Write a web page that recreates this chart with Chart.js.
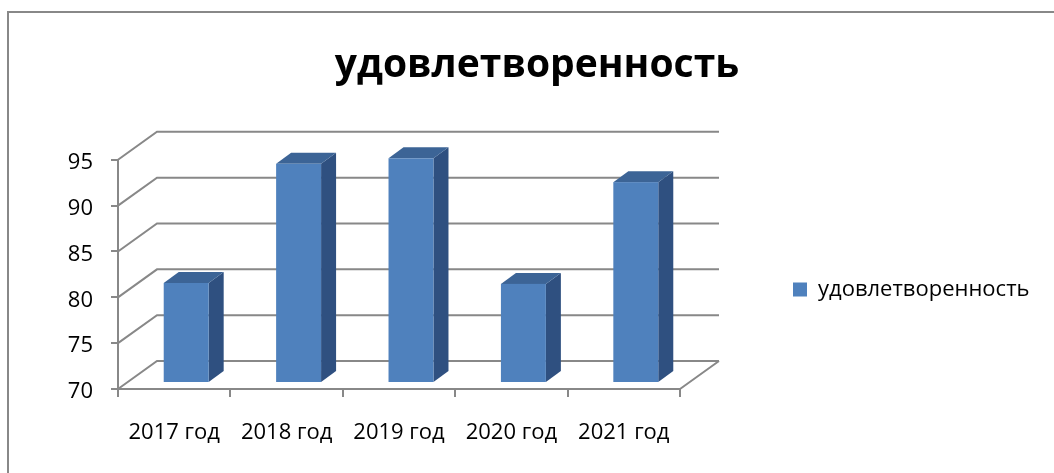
<!DOCTYPE html>
<html>
<head>
<meta charset="utf-8">
<script src="https://cdn.jsdelivr.net/npm/chart.js@4.4.1/dist/chart.umd.min.js"></script>
<style>
  html, body { margin: 0; padding: 0; background: #fff; }
  canvas { display: block; }
</style>
</head>
<body>
<canvas id="chart" width="1054" height="473"></canvas>
<script>
const categories = ["2017 год", "2018 год", "2019 год", "2020 год", "2021 год"];
const seriesName = "удовлетворенность";
const satisfaction = [80.8, 93.8, 94.4, 80.7, 91.8];
const yTicks = [70, 75, 80, 85, 90, 95];

const FONT = "'Open Sans', 'DejaVu Sans', sans-serif";
const gridColor = "#888888";
const barFront = "#4F81BD";
const barTop = "#3C6496";
const barSide = "#2F5080";
// 3d look: back wall offset, bar offset inside the box, bar depth (px)
const WALL = { dx: 39, dy: -28 };
const BAR_POS = { dx: 12, dy: -7 };
const BAR_DEPTH = { dx: 15, dy: -11 };

const frame = {
  id: "frame",
  beforeDraw(chart) {
    const ctx = chart.ctx;
    ctx.save();
    ctx.strokeStyle = gridColor;
    ctx.lineWidth = 2;
    ctx.strokeRect(8, 12, 1200, 600);
    ctx.restore();
  }
};

const box3d = {
  id: "box3d",
  beforeDatasetsDraw(chart) {
    const { ctx, chartArea, scales } = chart;
    const y = scales.y;
    const left = chartArea.left, right = chartArea.right;
    const floor = y.getPixelForValue(y.min);
    ctx.save();
    ctx.strokeStyle = gridColor;
    ctx.lineWidth = 2;
    ctx.beginPath();
    y.ticks.forEach(t => {
      const py = y.getPixelForValue(t.value);
      ctx.moveTo(left, py);
      ctx.lineTo(left + WALL.dx, py + WALL.dy);
      ctx.lineTo(right + WALL.dx, py + WALL.dy);
    });
    ctx.moveTo(right, floor);
    ctx.lineTo(right + WALL.dx, floor + WALL.dy);
    ctx.stroke();

    chart.getDatasetMeta(0).data.forEach(bar => {
      const p = bar.getProps(["x", "y", "width"], true);
      const x0 = p.x - p.width / 2 + BAR_POS.dx;
      const x1 = x0 + p.width;
      const top = p.y + BAR_POS.dy;
      const bottom = floor + BAR_POS.dy;

      ctx.fillStyle = barSide;
      ctx.beginPath();
      ctx.moveTo(x1, top);
      ctx.lineTo(x1 + BAR_DEPTH.dx, top + BAR_DEPTH.dy);
      ctx.lineTo(x1 + BAR_DEPTH.dx, bottom + BAR_DEPTH.dy);
      ctx.lineTo(x1, bottom);
      ctx.closePath();
      ctx.fill();

      ctx.fillStyle = barTop;
      ctx.beginPath();
      ctx.moveTo(x0, top);
      ctx.lineTo(x0 + BAR_DEPTH.dx, top + BAR_DEPTH.dy);
      ctx.lineTo(x1 + BAR_DEPTH.dx, top + BAR_DEPTH.dy);
      ctx.lineTo(x1, top);
      ctx.closePath();
      ctx.fill();

      ctx.fillStyle = barFront;
      ctx.fillRect(x0, top, p.width, bottom - top);
    });
    ctx.restore();
    return false;
  }
};

new Chart(document.getElementById("chart"), {
  type: "bar",
  data: {
    labels: categories,
    datasets: [{
      label: seriesName,
      data: satisfaction,
      backgroundColor: barFront,
      barPercentage: 0.4,
      categoryPercentage: 1
    }]
  },
  options: {
    responsive: false,
    animation: false,
    devicePixelRatio: 1,
    layout: { padding: { top: 0, left: 45, right: 25, bottom: 0 } },
    plugins: {
      title: {
        display: true,
        text: seriesName,
        color: "#000",
        font: { family: FONT, size: 39, weight: "bold" },
        padding: { top: 42, bottom: 71 }
      },
      legend: {
        position: "right",
        fullSize: false,
        title: { display: true, text: " ", font: { size: 10 }, padding: { top: 9, bottom: 9 } },
        labels: {
          boxWidth: 14,
          boxHeight: 14,
          padding: 10,
          color: "#000",
          font: { family: FONT, size: 22 }
        }
      },
      tooltip: { enabled: false }
    },
    scales: {
      x: {
        type: "category",
        grid: { offset: true, drawOnChartArea: false, tickLength: 8, color: gridColor, lineWidth: 2 },
        border: { color: gridColor, width: 2 },
        ticks: { color: "#000", font: { family: FONT, size: 22 }, padding: 23, maxRotation: 0 },
        afterFit: s => { s.height = 84; }
      },
      y: {
        position: "left",
        min: yTicks[0],
        max: yTicks[yTicks.length - 1],
        afterBuildTicks: s => { s.ticks = yTicks.map(v => ({ value: v })); },
        grid: { drawOnChartArea: false, tickLength: 7, color: gridColor, lineWidth: 2 },
        border: { color: gridColor, width: 2 },
        ticks: { color: "#000", font: { family: FONT, size: 22 }, padding: 18, labelOffset: 3 },
        afterFit: s => { s.width = 73; }
      },
      // empty space right of the plot for the 3d back wall
      depth: {
        type: "linear",
        position: "right",
        display: false,
        afterFit: s => { s.width = 103; }
      }
    }
  },
  plugins: [frame, box3d]
});
</script>
</body>
</html>
